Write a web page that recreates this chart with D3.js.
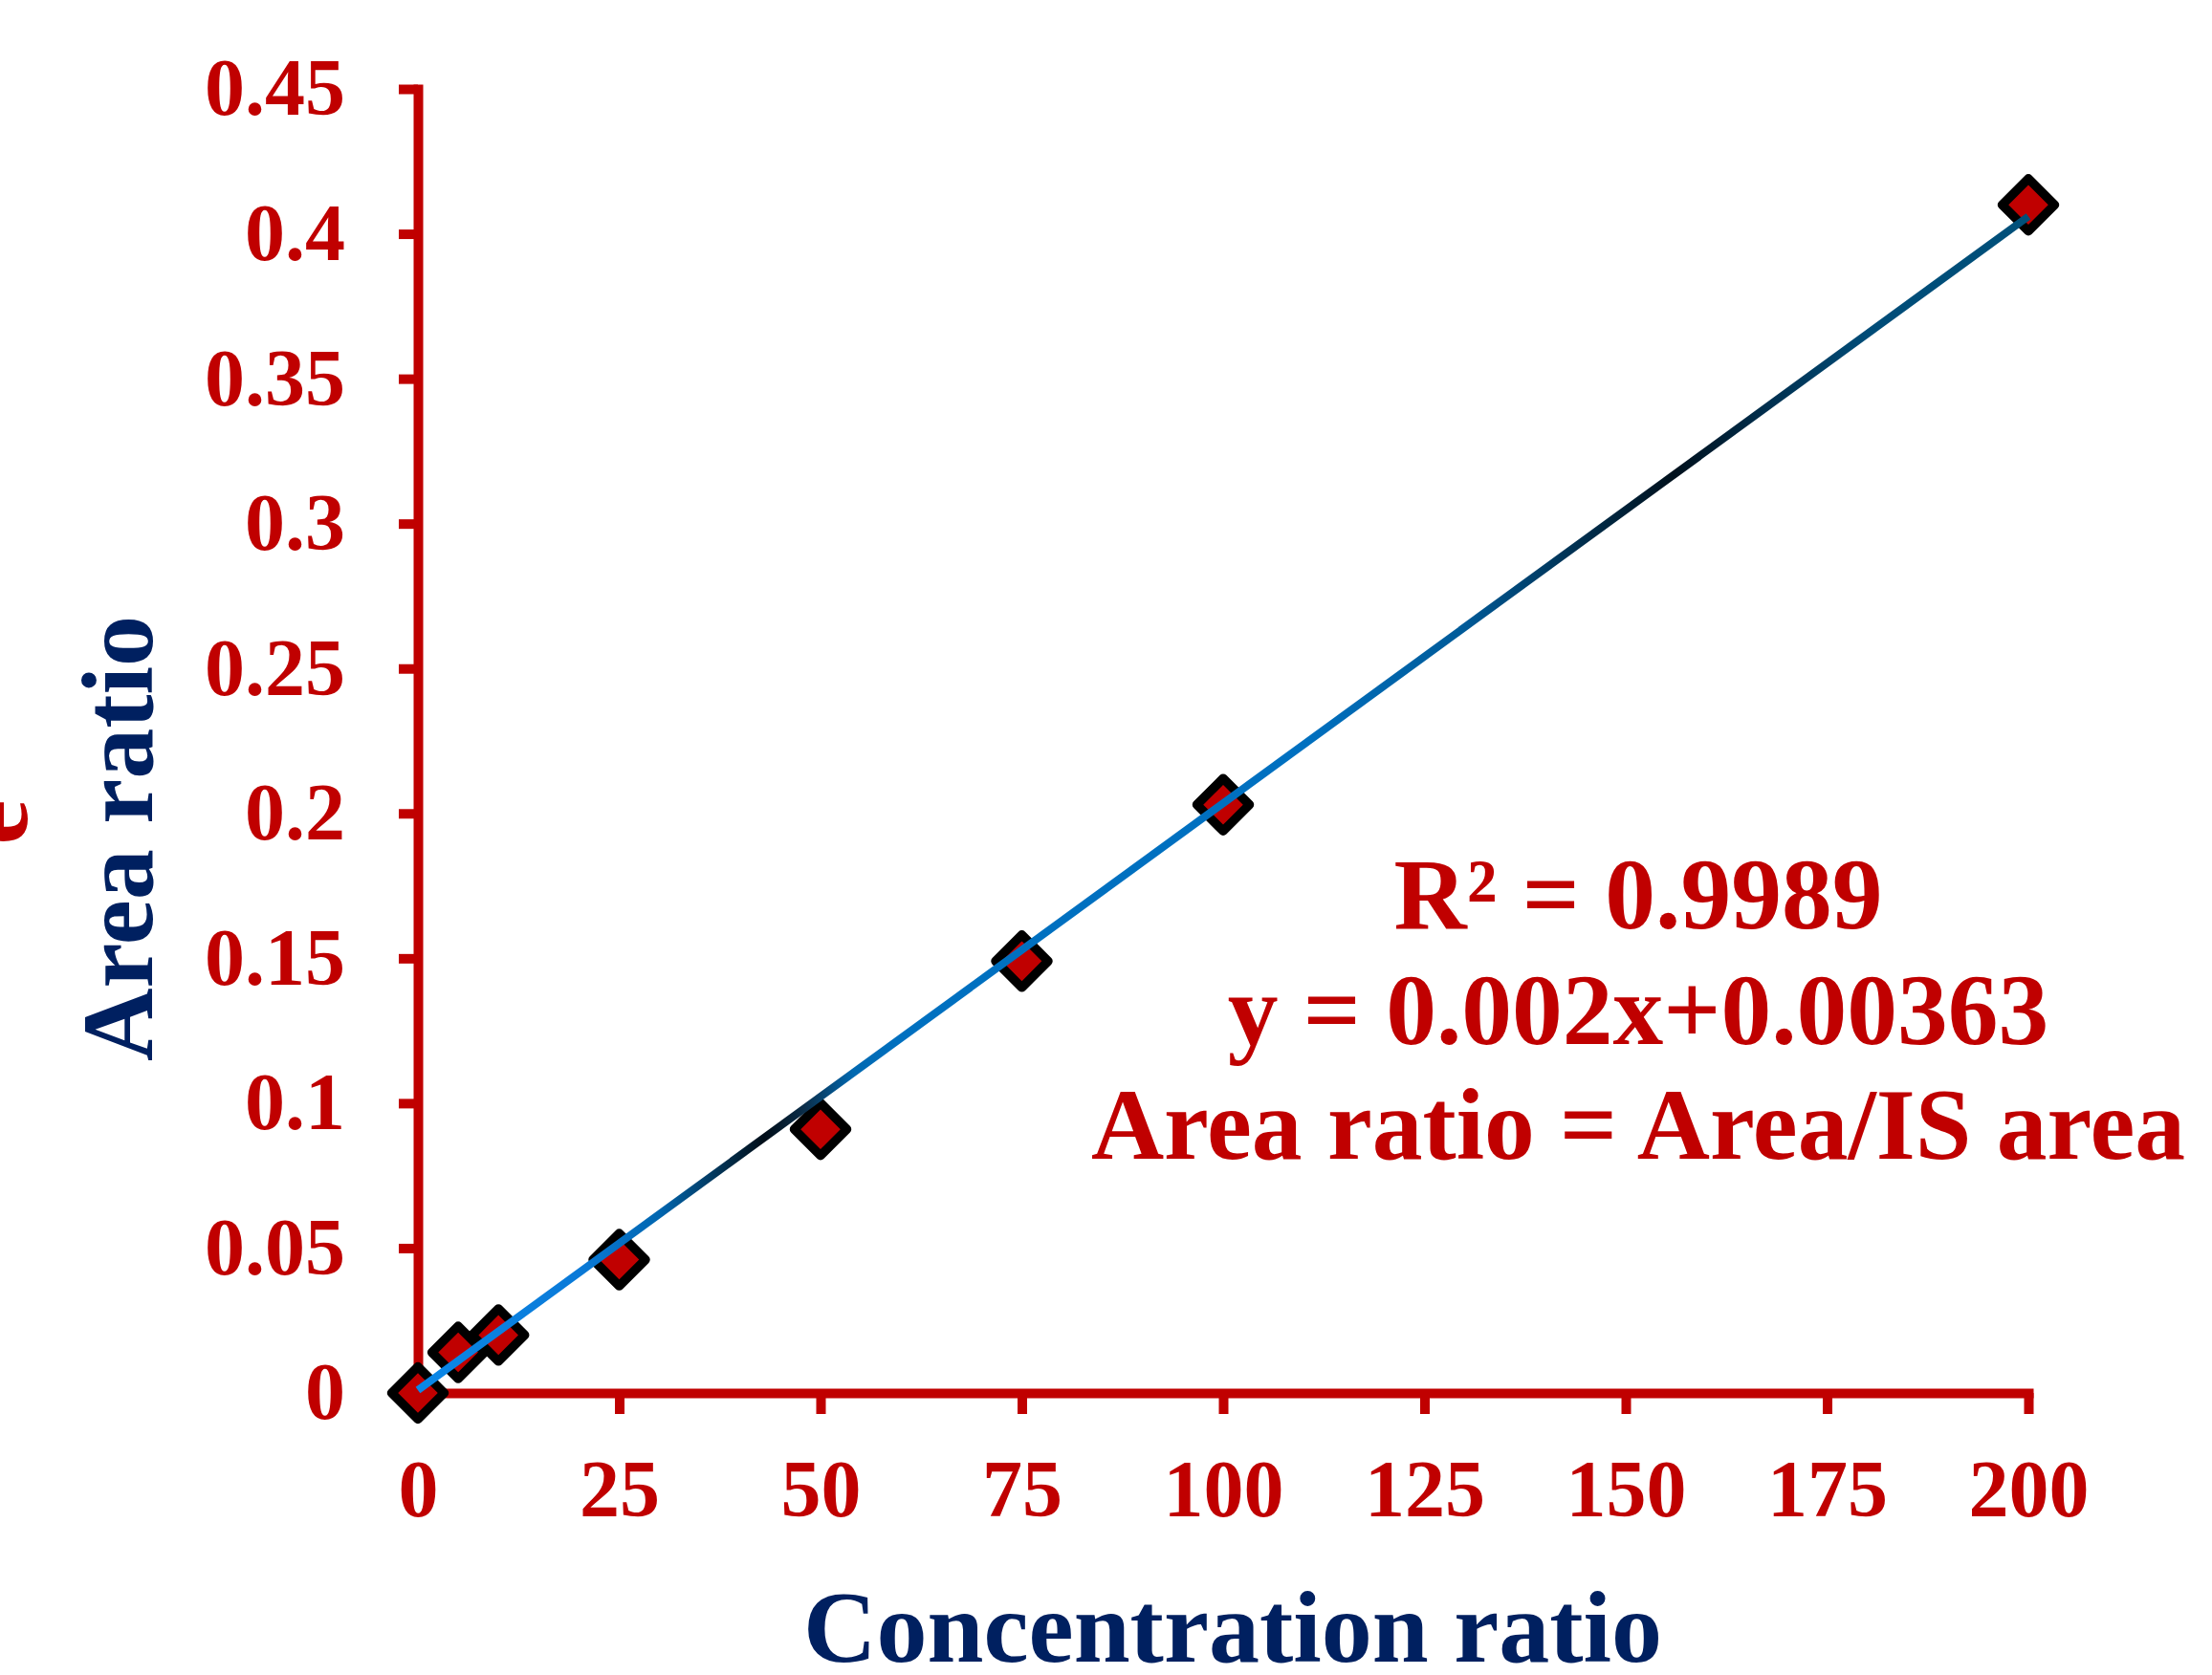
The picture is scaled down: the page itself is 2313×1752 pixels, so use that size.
<!DOCTYPE html>
<html>
<head>
<meta charset="utf-8">
<script src="https://cdn.jsdelivr.net/npm/d3@7"></script>
<style>
  body { margin: 0; background: #fff; }
  svg { display: block; }
  text { font-family: "Liberation Serif", "Times New Roman", serif; font-weight: bold; }
</style>
</head>
<body>
<svg width="2313" height="1752"></svg>
<script>
// calibration points (concentration ratio vs area ratio)
const concRatio = [0, 5, 10, 25, 50, 75, 100, 200];
const areaRatio = [0, 0.014, 0.02, 0.046, 0.091, 0.149, 0.203, 0.41];

// fitted line, end points
const trendX = [0, 200];
const trendY = [0.001, 0.406];

const xTicks = [0, 25, 50, 75, 100, 125, 150, 175, 200];
const yTicks = [0, 0.05, 0.1, 0.15, 0.2, 0.25, 0.3, 0.35, 0.4, 0.45];

const notes = ['R\u00B2 = 0.9989', 'y = 0.002x+0.00363', 'Area ratio = Area/IS area'];

const red = '#C00000';
const navy = '#002060';

const svg = d3.select('svg');
svg.append('rect').attr('width', 2313).attr('height', 1752).attr('fill', '#fff');

const x = d3.scaleLinear().domain([0, 200]).range([437, 2121]);
const y = d3.scaleLinear().domain([0, 0.45]).range([1457, 93]);

// axes
const yAxis = svg.append('g')
    .attr('transform', `translate(${x(0)},0)`)
    .call(d3.axisLeft(y).tickValues(yTicks).tickFormat(d => String(d))
      .tickSize(20).tickSizeOuter(0).tickPadding(56));

const xAxis = svg.append('g')
    .attr('transform', `translate(0,${y(0)})`)
    .call(d3.axisBottom(x).tickValues(xTicks).tickFormat(d => String(d))
      .tickSize(22).tickSizeOuter(0).tickPadding(47));

[xAxis, yAxis].forEach(a => {
  a.select('.domain').attr('stroke', red).attr('stroke-width', 10)
    .attr('stroke-linecap', 'square');
  a.selectAll('.tick line').attr('stroke', red).attr('stroke-width', 10);
  a.selectAll('.tick text').attr('fill', red).attr('font-size', 84)
    .attr('font-family', '"Liberation Serif", "Times New Roman", serif')
    .attr('font-weight', 'bold');
});

// markers
const diamond = d3.symbol().type(d3.symbolSquare).size(1512);
svg.append('g').selectAll('path')
  .data(concRatio.map((c, i) => [c, areaRatio[i]]))
  .enter().append('path')
    .attr('d', diamond)
    .attr('transform', d => `translate(${x(d[0])},${y(d[1])}) rotate(45)`)
    .attr('fill', red)
    .attr('stroke', '#000')
    .attr('stroke-width', 9.5)
    .attr('stroke-linejoin', 'round');

// trend line with the uneven blue gradient
const grad = svg.append('defs').append('linearGradient')
    .attr('id', 'trend')
    .attr('gradientUnits', 'userSpaceOnUse')
    .attr('x1', x(0)).attr('x2', x(200))
    .attr('y1', 0).attr('y2', 0);

const stops = [
  [0, '#0A88E8'], [0.1, '#0A7AD8'], [0.15, '#0066B0'], [0.19, '#03304F'],
  [0.215, '#000D18'], [0.24, '#0B2E4A'], [0.27, '#0068B0'], [0.3, '#0070C0'],
  [0.55, '#0070C0'], [0.65, '#005A98'], [0.72, '#003050'], [0.78, '#00101C'],
  [0.84, '#003050'], [0.9, '#004C78'], [1, '#00507A']
];
grad.selectAll('stop').data(stops).enter().append('stop')
    .attr('offset', d => d[0])
    .attr('stop-color', d => d[1]);

const line = d3.line().x(d => x(d[0])).y(d => y(d[1]));
svg.append('path')
    .datum(trendX.map((t, i) => [t, trendY[i]]))
    .attr('d', line)
    .attr('fill', 'none')
    .attr('stroke', 'url(#trend)')
    .attr('stroke-width', 8);

// equation text
svg.append('g').selectAll('text')
  .data(notes)
  .enter().append('text')
    .attr('x', 1713)
    .attr('y', (d, i) => 971 + i * 120.5)
    .attr('text-anchor', 'middle')
    .attr('font-size', 105.5)
    .attr('fill', red)
    .text(d => d);

// axis titles
svg.append('text')
    .attr('x', 1289).attr('y', 1738)
    .attr('text-anchor', 'middle')
    .attr('font-size', 106)
    .attr('fill', navy)
    .text('Concentration ratio');

svg.append('text')
    .attr('transform', 'translate(159,877) rotate(-90)')
    .attr('text-anchor', 'middle')
    .attr('font-size', 106)
    .attr('fill', navy)
    .text('Area ratio');

// cut-off letter at the left edge
svg.append('text')
    .attr('transform', 'translate(28,860) rotate(-90)')
    .attr('text-anchor', 'middle')
    .attr('font-size', 106)
    .attr('fill', red)
    .text('e');
</script>
</body>
</html>
